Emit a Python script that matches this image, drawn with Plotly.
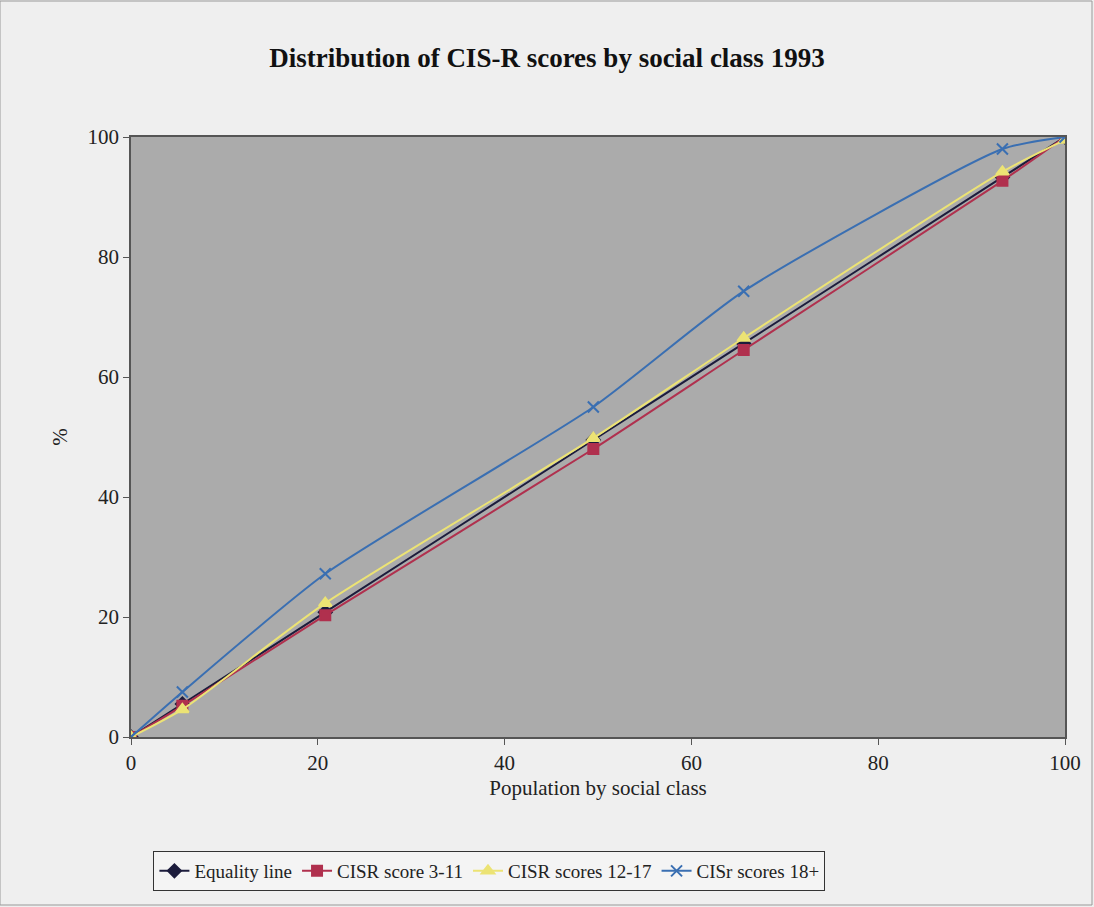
import plotly.graph_objects as go

x_vals = [0, 5.5, 20.8, 49.5, 65.6, 93.3, 100]
equality = [0, 5.5, 20.8, 49.5, 65.6, 93.3, 100]
cisr_3_11 = [0, 5.2, 20.3, 48.0, 64.5, 92.7, 100]
cisr_12_17 = [0, 4.6, 22.3, 49.8, 66.5, 94.2, 99.5]
cisr_18 = [0, 7.5, 27.2, 55.0, 74.3, 98.0, 100]

series = [
    ("Equality line", equality, "#1c1c3c", "diamond", 10),
    ("CISR score 3-11", cisr_3_11, "#b0304e", "square", 10),
    ("CISR scores 12-17", cisr_12_17, "#ece374", "triangle-up", 11),
    ("CISr scores 18+", cisr_18, "#3a6fb2", "x-thin-open", 11),
]

fig = go.Figure()
for name, ys, color, sym, size in series:
    fig.add_trace(go.Scatter(
        x=x_vals, y=ys, name=name, mode="lines+markers",
        line=dict(color=color, width=2, shape="spline", smoothing=0.6),
        marker=dict(symbol=sym, size=size, color=color,
                    line=dict(color=color, width=2)),
    ))

font = "Liberation Serif, Times New Roman, serif"
fig.update_layout(
    width=1094, height=907,
    paper_bgcolor="#efefef", plot_bgcolor="#ababab",
    margin=dict(l=131, r=29, t=137, b=170),
    font=dict(family=font, size=21, color="#222222"),
    title=dict(text="<b>Distribution of CIS-R scores by social class 1993</b>",
               x=0.5, xanchor="center", y=0.936, yanchor="middle",
               font=dict(family=font, size=27, color="#111111")),
    xaxis=dict(range=[0, 100], tickvals=[0, 20, 40, 60, 80, 100],
               showgrid=False, zeroline=False, showline=True, linecolor="#555555",
               linewidth=1.5, mirror=True, ticks="outside", ticklen=6,
               tickcolor="#555555",
               title=dict(text="Population by social class", standoff=6,
                          font=dict(size=21))),
    yaxis=dict(range=[0, 100], tickvals=[0, 20, 40, 60, 80, 100],
               showgrid=False, zeroline=False, showline=True, linecolor="#555555",
               linewidth=1.5, mirror=True, ticks="outside", ticklen=6,
               tickcolor="#555555",
               title=dict(text="%", standoff=14, font=dict(size=21))),
    legend=dict(orientation="h", x=0.024, xanchor="left", y=-0.19, yanchor="top",
                bgcolor="#f4f4f4", bordercolor="#333333", borderwidth=1,
                font=dict(size=19), itemwidth=30, tracegroupgap=0),
    showlegend=True,
)
fig.add_shape(type="rect", xref="paper", yref="paper",
              x0=-131/934, x1=(934+27)/934, y0=-168/600, y1=(600+136)/600,
              line=dict(color="#999999", width=1))
fig.write_html("out.html")
